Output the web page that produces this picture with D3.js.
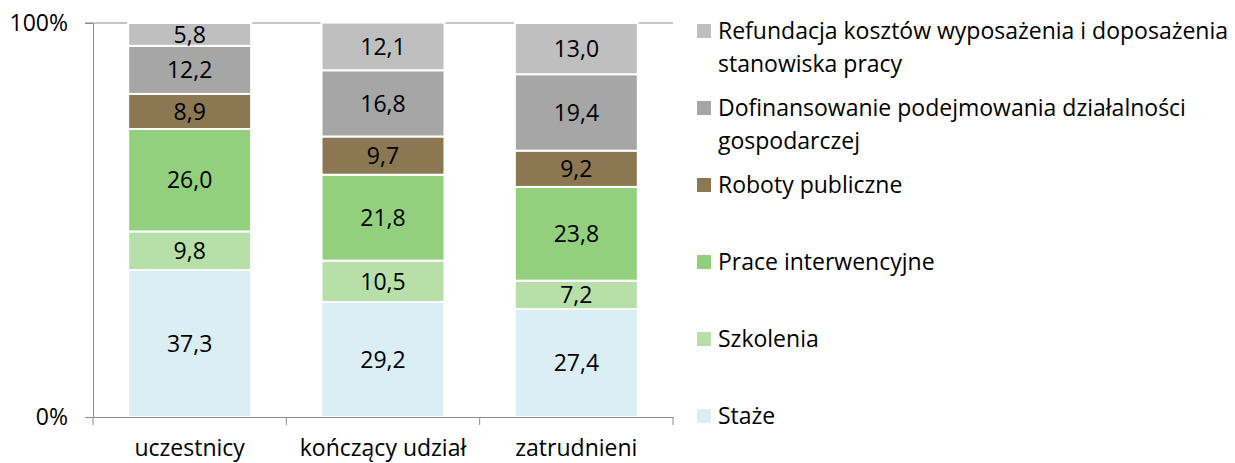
<!DOCTYPE html>
<html>
<head>
<meta charset="utf-8">
<script src="https://cdn.jsdelivr.net/npm/d3@7"></script>
<style>
  body { margin: 0; background: #fff; }
  text { font-family: "Open Sans", sans-serif; fill: #000; }
</style>
</head>
<body>
<div id="chart"></div>
<script>
const WIDTH = 1235
const HEIGHT = 463
const MARGIN = { TOP: 23, BOTTOM: 46, LEFT: 93, RIGHT: 562 }
const FONT_SIZE = 23

// categories on the x axis
const categories = ["uczestnicy", "kończący udział", "zatrudnieni"]

// series, bottom to top of each stack
const series = ["Staże", "Szkolenia", "Prace interwencyjne", "Roboty publiczne",
  "Dofinansowanie podejmowania działalności gospodarczej",
  "Refundacja kosztów wyposażenia i doposażenia stanowiska pracy"]

const stazeValues = [37.3, 29.2, 27.4]
const szkoleniaValues = [9.8, 10.5, 7.2]
const praceValues = [26.0, 21.8, 23.8]
const robotyValues = [8.9, 9.7, 9.2]
const dofinansowanieValues = [12.2, 16.8, 19.4]
const refundacjaValues = [5.8, 12.1, 13.0]

const seriesColors = ["#daeef3", "#b7e0a9", "#92d07e", "#8b7852", "#a6a6a6", "#bfbfbf"]

// legend text, wrapped the way the original legend wraps it
const legendLines = [
  ["Staże"],
  ["Szkolenia"],
  ["Prace interwencyjne"],
  ["Roboty publiczne"],
  ["Dofinansowanie podejmowania działalności", "gospodarczej"],
  ["Refundacja kosztów wyposażenia i doposażenia", "stanowiska pracy"]
]

const yTicks = [0, 100]

const allValues = [stazeValues, szkoleniaValues, praceValues, robotyValues,
  dofinansowanieValues, refundacjaValues]

const rows = categories.map((c, i) => {
  const row = { category: c }
  series.forEach((s, j) => { row[s] = allValues[j][i] })
  return row
})

const innerW = WIDTH - MARGIN.LEFT - MARGIN.RIGHT
const innerH = HEIGHT - MARGIN.TOP - MARGIN.BOTTOM

const svg = d3.select("#chart")
  .append("svg")
  .attr("width", WIDTH)
  .attr("height", HEIGHT)

const g = svg.append("g")
  .attr("transform", `translate(${MARGIN.LEFT}, ${MARGIN.TOP})`)

const x = d3.scaleBand()
  .domain(categories)
  .range([0, innerW])
  .padding(0)

const y = d3.scaleLinear()
  .domain([0, 100])
  .range([innerH, 0])

const barW = x.bandwidth() * 0.636

const stack = d3.stack().keys(series)
const stacked = stack(rows)

const fmt = v => d3.format(".1f")(v).replace(".", ",")

// gridline at 100%
g.append("line")
  .attr("x1", -8)
  .attr("x2", innerW)
  .attr("y1", y(100))
  .attr("y2", y(100))
  .attr("stroke", "#8c8c8c")
  .attr("stroke-width", 1)

// bars
const layers = g.selectAll("g.layer")
  .data(stacked)
  .enter()
  .append("g")
  .attr("class", "layer")
  .attr("fill", (d, i) => seriesColors[i])

layers.selectAll("rect")
  .data(d => d.map(p => ({ p, key: d.key })))
  .enter()
  .append("rect")
  .attr("x", d => x(d.p.data.category) + (x.bandwidth() - barW) / 2)
  .attr("width", barW)
  .attr("y", d => y(d.p[1]))
  .attr("height", d => y(d.p[0]) - y(d.p[1]))
  .attr("stroke", "#fff")
  .attr("stroke-width", 2)

layers.selectAll("text")
  .data(d => d.map(p => ({ p, key: d.key })))
  .enter()
  .append("text")
  .attr("x", d => x(d.p.data.category) + x.bandwidth() / 2)
  .attr("y", d => (y(d.p[0]) + y(d.p[1])) / 2)
  .attr("dy", "0.36em")
  .attr("text-anchor", "middle")
  .style("font-size", FONT_SIZE + "px")
  .text(d => fmt(d.p.data[d.key]))

// y axis
const yAxis = g.append("g")
  .call(d3.axisLeft(y).tickValues(yTicks).tickFormat(d => d + "%").tickSize(8).tickPadding(17))
yAxis.select(".domain").attr("stroke", "#8c8c8c")
yAxis.selectAll(".tick line").attr("stroke", "#8c8c8c")
yAxis.selectAll("text").style("font-size", FONT_SIZE + "px").attr("fill", "#000")

// x axis with ticks between the categories
const xAxis = g.append("g")
  .attr("transform", `translate(0, ${innerH})`)
  .call(d3.axisBottom(x).tickSize(0).tickPadding(23))
xAxis.select(".domain").attr("stroke", "#8c8c8c")
xAxis.selectAll("text").style("font-size", FONT_SIZE + "px").attr("fill", "#000")

const boundaries = [0].concat(categories.map(c => x(c) + x.bandwidth()))
xAxis.selectAll("line.sep")
  .data(boundaries)
  .enter()
  .append("line")
  .attr("class", "sep")
  .attr("x1", d => d)
  .attr("x2", d => d)
  .attr("y1", 0)
  .attr("y2", 8)
  .attr("stroke", "#8c8c8c")

// legend, top entry is the top of the stack
const legend = svg.append("g")
  .attr("transform", "translate(697, 31)")

const legendOrder = d3.range(series.length).reverse()
const entry = legend.selectAll("g.entry")
  .data(legendOrder)
  .enter()
  .append("g")
  .attr("class", "entry")
  .attr("transform", (d, i) => `translate(0, ${i * 77})`)

entry.append("rect")
  .attr("x", 0)
  .attr("y", -7)
  .attr("width", 14)
  .attr("height", 14)
  .attr("fill", d => seriesColors[d])

entry.append("text")
  .attr("x", 21)
  .attr("y", 0)
  .style("font-size", FONT_SIZE + "px")
  .selectAll("tspan")
  .data(d => legendLines[d])
  .enter()
  .append("tspan")
  .attr("x", 21)
  .attr("dy", (d, i) => i === 0 ? "0.36em" : 33)
  .text(d => d)
</script>
</body>
</html>
